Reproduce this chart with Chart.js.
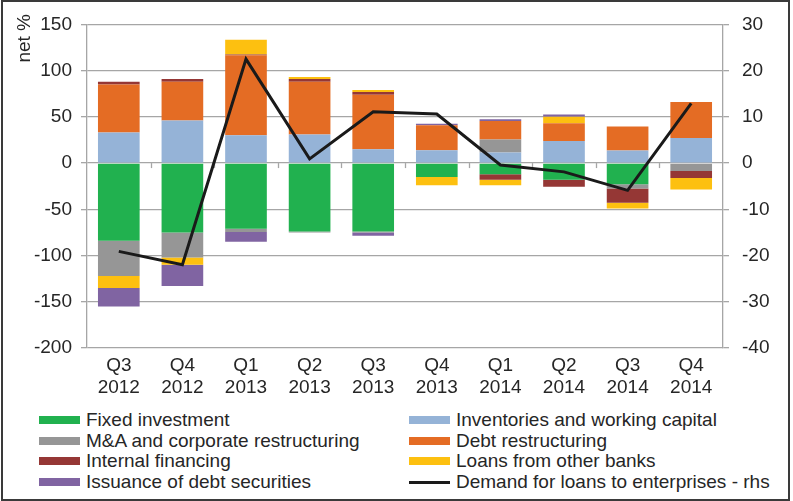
<!DOCTYPE html>
<html>
<head>
<meta charset="utf-8">
<script src="https://cdn.jsdelivr.net/npm/chart.js@4.4.1/dist/chart.umd.min.js"></script>
<style>
  html, body { margin: 0; padding: 0; background: #fff; }
  #frame {
    position: absolute; left: 1px; top: 0; width: 785px; height: 497px;
    border: 2px solid #3a3a3a; box-sizing: content-box;
  }
  #wrap { position: absolute; left: -3px; top: -2px; width: 793px; height: 400px; }
  #legend {
    position: absolute; left: -3px; top: 408px; width: 793px;
    font-family: "Liberation Sans", Arial, sans-serif; font-size: 19px; color: #262626;
  }
  .item { position: absolute; height: 20px; line-height: 20px; white-space: nowrap; }
  .sw { position: absolute; top: 6px; width: 41px; height: 8px; }
  .txt { position: absolute; left: 47px; top: 0; }
</style>
</head>
<body>
<div id="frame">
  <div id="wrap"><canvas id="chart" width="793" height="400"></canvas></div>
  <div id="legend"></div>
</div>
<script>
const quarters = [["Q3","2012"],["Q4","2012"],["Q1","2013"],["Q2","2013"],["Q3","2013"],
                  ["Q4","2013"],["Q1","2014"],["Q2","2014"],["Q3","2014"],["Q4","2014"]];

const fixedInvestment   = [-84, -75, -71, -74, -74, -15, -12, -18, -23, 0];
const inventories       = [33, 46, 30, 31, 15, 14, 11.5, 24, 13.5, 27];
const mergersAcq        = [-38, -27, -3.5, -1, -1, 0, 14, 0, -4.5, -8.5];
const debtRestructuring = [52, 42, 86.5, 57, 59, 27, 20, 19, 26, 39];
const internalFinancing = [3, 3, 1, 3, 3, 0, -6, -7.5, -15.5, -7.5];
const loansOtherBanks   = [-13, -8, 16, 2, 2, -9, -6, 7, -6, -12.5];
const debtSecurities    = [-20, -23, -10.5, 0, -3.5, 1.5, 2, 2.5, 0, 0];
const loanDemand        = [-19.1, -22.0, 22.5, 0.9, 11.1, 10.6, -0.4, -1.9, -5.9, 12.9];

const leftTicks  = { min: -200, max: 150, step: 50 };
const rightTicks = { min: -40, max: 30, step: 10 };

const FONT = "Liberation Sans, Arial, sans-serif";
const GRID = "#a6a6a6";
const TEXT = "#262626";

const bars = [
  ["Fixed investment", fixedInvestment, "#21b14f"],
  ["Inventories and working capital", inventories, "#95b3d7"],
  ["M&A and corporate restructuring", mergersAcq, "#969696"],
  ["Debt restructuring", debtRestructuring, "#e46c24"],
  ["Internal financing", internalFinancing, "#953735"],
  ["Loans from other banks", loansOtherBanks, "#fdc010"],
  ["Issuance of debt securities", debtSecurities, "#8064a2"]
];

const datasets = bars.map(b => ({
  type: "bar",
  label: b[0],
  data: b[1],
  backgroundColor: b[2],
  yAxisID: "y",
  order: 1,
  barPercentage: 0.655,
  categoryPercentage: 1
}));

datasets.push({
  type: "line",
  label: "Demand for loans to enterprises - rhs",
  data: loanDemand,
  borderColor: "#1a1a1a",
  backgroundColor: "#1a1a1a",
  borderWidth: 3,
  pointRadius: 0,
  tension: 0,
  yAxisID: "y1",
  order: 0
});

// small ticks on the zero line between categories + "net %" title
const extras = {
  id: "extras",
  beforeDatasetsDraw(chart) {
    const ctx = chart.ctx, x = chart.scales.x, y = chart.scales.y;
    const y0 = y.getPixelForValue(0);
    ctx.save();
    ctx.strokeStyle = GRID;
    ctx.lineWidth = 1.3;
    for (let i = 0; i < quarters.length - 1; i++) {
      const px = Math.round((x.getPixelForValue(i) + x.getPixelForValue(i + 1)) / 2) + 0.5;
      ctx.beginPath();
      ctx.moveTo(px, y0);
      ctx.lineTo(px, y0 + 5);
      ctx.stroke();
    }
    ctx.restore();
  },
  afterDraw(chart) {
    const ctx = chart.ctx;
    ctx.save();
    ctx.translate(29.5, 14);
    ctx.rotate(-Math.PI / 2);
    ctx.font = "19px " + FONT;
    ctx.fillStyle = TEXT;
    ctx.textAlign = "right";
    ctx.textBaseline = "alphabetic";
    ctx.fillText("net %", 0, 0);
    ctx.restore();
  }
};

new Chart(document.getElementById("chart"), {
  data: { labels: quarters, datasets },
  options: {
    responsive: false,
    animation: false,
    layout: { padding: { top: 19, left: 0, right: 0, bottom: 0 } },
    plugins: { legend: { display: false }, tooltip: { enabled: false } },
    scales: {
      x: {
        stacked: true,
        grid: { display: false, drawTicks: false },
        border: { display: false },
        ticks: { color: TEXT, font: { size: 19, family: FONT }, padding: 6, maxRotation: 0, autoSkip: false },
        afterFit(s) { s.height = 52; }
      },
      y: {
        stacked: true,
        position: "left",
        min: leftTicks.min, max: leftTicks.max,
        grid: { color: GRID, lineWidth: 1.3, tickLength: 6, tickColor: GRID },
        border: { display: true, color: GRID, width: 1.3 },
        ticks: { stepSize: leftTicks.step, color: TEXT, font: { size: 19, family: FONT }, padding: 9 },
        afterFit(s) { s.width = 87; }
      },
      y1: {
        position: "right",
        min: rightTicks.min, max: rightTicks.max,
        grid: { drawOnChartArea: false, color: GRID, lineWidth: 1.3, tickLength: 6, tickColor: GRID },
        border: { display: true, color: GRID, width: 1.3 },
        ticks: { stepSize: rightTicks.step, color: TEXT, font: { size: 19, family: FONT }, padding: 13 },
        afterFit(s) { s.width = 70; }
      }
    }
  },
  plugins: [extras]
});

// two-column legend, filled row by row
const legend = document.getElementById("legend");
datasets.forEach((d, i) => {
  const col = i % 2, row = Math.floor(i / 2);
  const el = document.createElement("div");
  el.className = "item";
  el.style.left = (col === 0 ? 39 : 409) + "px";
  el.style.top = (row * 20.5) + "px";
  const sw = document.createElement("div");
  sw.className = "sw";
  sw.style.background = d.backgroundColor;
  if (d.type === "line") { sw.style.top = "9px"; sw.style.height = "3px"; }
  const tx = document.createElement("span");
  tx.className = "txt";
  tx.textContent = d.label;
  el.appendChild(sw);
  el.appendChild(tx);
  legend.appendChild(el);
});
</script>
</body>
</html>
